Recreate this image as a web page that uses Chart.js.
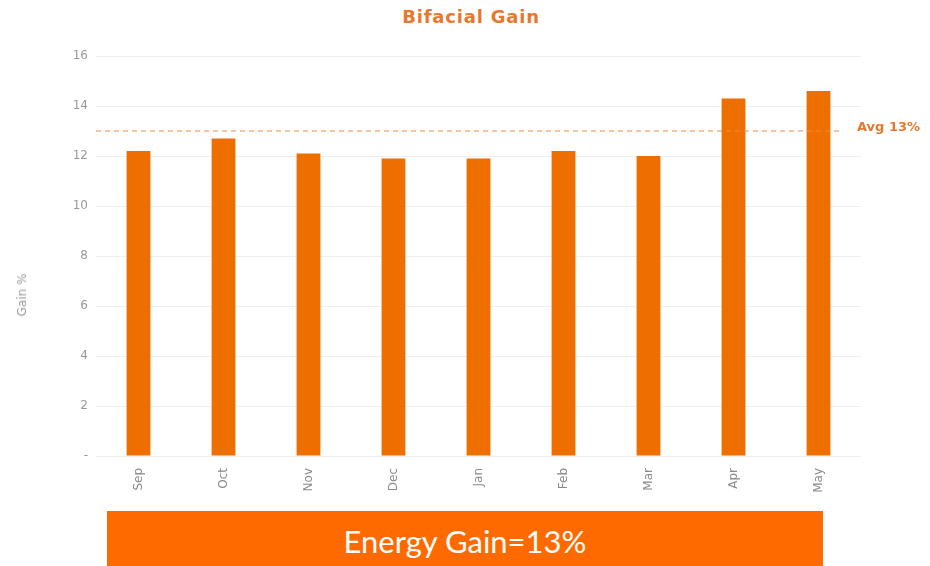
<!DOCTYPE html>
<html>
<head>
<meta charset="utf-8">
<script src="https://cdn.jsdelivr.net/npm/chart.js@4/dist/chart.umd.min.js"></script>
<style>
  html, body { margin: 0; padding: 0; background: #fff; }
  body { width: 930px; height: 566px; position: relative; overflow: hidden; }
  #title { position: absolute; left: 0; width: 942px; top: 6px; text-align: center;
    font-family: "DejaVu Sans", sans-serif; font-weight: 700; font-size: 18px; letter-spacing: 0.8px; color: #E8782E; }
  #wrap { position: absolute; left: 0; top: 0; width: 930px; height: 508px; }
  #ytitle { position: absolute; left: 22px; top: 295px; transform: translate(-50%, -50%) rotate(-90deg);
    font-family: "DejaVu Sans", sans-serif; font-size: 12px; color: #999; white-space: nowrap; }
  #banner { position: absolute; left: 107px; top: 511px; width: 716px; height: 55px;
    background: #FF6A00; color: #fff; font-family: Lato, "Open Sans", sans-serif;
    font-size: 31px; line-height: 60px; text-align: center; }
</style>
</head>
<body>
<div id="title">Bifacial Gain</div>
<div id="wrap"><canvas id="c"></canvas></div>
<div id="ytitle">Gain %</div>
<div id="banner">Energy Gain=13%</div>
<script>
const months = ["Sep", "Oct", "Nov", "Dec", "Jan", "Feb", "Mar", "Apr", "May"];
const gainPct = [12.2, 12.7, 12.1, 11.9, 11.9, 12.2, 12.0, 14.3, 14.6];
const avgGain = 13;
const avgLabel = "Avg 13%";
const yTicks = [0, 2, 4, 6, 8, 10, 12, 14, 16];

const avgLine = {
  id: 'avgLine',
  afterDatasetsDraw(chart) {
    const { ctx, chartArea, scales } = chart;
    const y = scales.y.getPixelForValue(avgGain);
    ctx.save();
    ctx.strokeStyle = '#F08A3C';
    ctx.lineWidth = 1.2;
    ctx.setLineDash([5, 4]);
    ctx.beginPath();
    ctx.moveTo(chartArea.left, y);
    ctx.lineTo(chartArea.right - 18, y);
    ctx.stroke();
    ctx.setLineDash([]);
    ctx.fillStyle = '#E8782E';
    ctx.font = 'bold 13px "DejaVu Sans", sans-serif';
    ctx.textBaseline = 'middle';
    ctx.textAlign = 'left';
    ctx.fillText(avgLabel, chartArea.right - 4, y - 3);
    ctx.restore();
  }
};

new Chart(document.getElementById('c'), {
  type: 'bar',
  data: {
    labels: months,
    datasets: [{
      data: gainPct,
      backgroundColor: '#EE6F00',
      borderWidth: 0,
      barPercentage: 0.28,
      categoryPercentage: 1.0
    }]
  },
  options: {
    responsive: true,
    maintainAspectRatio: false,
    animation: false,
    layout: { padding: { left: 12, right: 69, top: 56, bottom: 0 } },
    plugins: { legend: { display: false }, tooltip: { enabled: false } },
    scales: {
      x: {
        grid: { display: false },
        border: { display: false },
        ticks: {
          minRotation: 90, maxRotation: 90,
          color: '#8a8a8a',
          font: { family: 'DejaVu Sans', size: 12 },
          padding: 4
        },
        afterFit(scale) { scale.height = 52; }
      },
      y: {
        min: 0, max: 16,
        afterBuildTicks(scale) { scale.ticks = yTicks.map(v => ({ value: v })); },
        grid: { color: '#efefef', drawTicks: false },
        border: { display: false },
        ticks: {
          color: '#999999',
          font: { family: 'DejaVu Sans', size: 12 },
          padding: 8,
          callback: v => v === 0 ? '-' : String(v)
        },
        afterFit(scale) { scale.width = 84; }
      }
    }
  },
  plugins: [avgLine]
});
</script>
</body>
</html>
